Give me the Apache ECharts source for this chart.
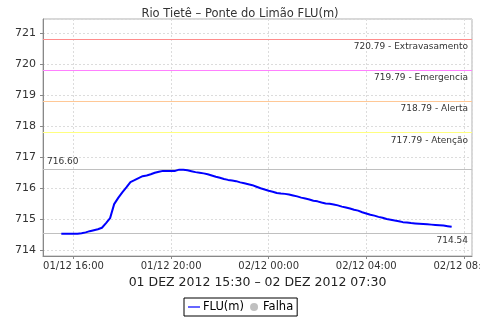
<!DOCTYPE html>
<html>
<head>
<meta charset="utf-8">
<script src="https://cdn.jsdelivr.net/npm/echarts@6/dist/echarts.min.js"></script>
<style>
html,body{margin:0;padding:0;background:#fff;}
#c{width:480px;height:320px;}
</style>
</head>
<body>
<div id="c"></div>
<script>
// ---- data ----
var titleText = 'Rio Tietê – Ponte do Limão FLU(m)';
var axisTitle = '01 DEZ 2012 15:30 – 02 DEZ 2012 07:30';
var seriesName = 'FLU(m)';
var failName = 'Falha';
var startTime = Date.UTC(2012, 11, 1, 15, 30);
var stepMinutes = 10;
var fluValues = [
  714.54, 714.54, 714.54, 714.54, 714.54, 714.55, 714.58, 714.62, 714.65, 714.68,
  714.73, 714.88, 715.04, 715.49, 715.69, 715.87, 716.03, 716.20, 716.26, 716.33,
  716.39, 716.41, 716.45, 716.50, 716.53, 716.56, 716.56, 716.56, 716.56, 716.60,
  716.60, 716.58, 716.55, 716.52, 716.50, 716.48, 716.45, 716.41, 716.37, 716.34,
  716.30, 716.27, 716.25, 716.23, 716.19, 716.16, 716.13, 716.10, 716.05, 716.00,
  715.96, 715.92, 715.89, 715.85, 715.83, 715.82, 715.80, 715.77, 715.74, 715.70,
  715.67, 715.64, 715.60, 715.58, 715.54, 715.51, 715.50, 715.48, 715.45, 715.41,
  715.38, 715.35, 715.31, 715.28, 715.23, 715.19, 715.15, 715.12, 715.08, 715.05,
  715.01, 714.99, 714.96, 714.94, 714.91, 714.90, 714.88, 714.87, 714.86, 714.85,
  714.84, 714.83, 714.82, 714.81, 714.80, 714.78, 714.76
];
var thresholdValues = [720.79, 719.79, 718.79, 717.79];
var thresholdNames = ['Extravasamento', 'Emergencia', 'Alerta', 'Atenção'];
var thresholdColors = ['#ff8c8c', '#ff80ff', '#ffc896', '#ffff80'];
var maxValue = 716.60;
var minValue = 714.54;
var xMin = Date.UTC(2012, 11, 1, 14, 45);
var xMax = Date.UTC(2012, 11, 2, 8, 20);
var yMin = 713.82;
var yMax = 721.45;

// ---- build ----
var fluData = fluValues.map(function (v, i) {
  return [startTime + i * stepMinutes * 60000, v];
});
function pad(n) { return (n < 10 ? '0' : '') + n; }
var FONT = 'DejaVu Sans';

var markData = thresholdValues.map(function (v, i) {
  return {
    yAxis: v,
    lineStyle: { color: thresholdColors[i], width: 1.2, type: 'solid' },
    label: {
      show: true, position: 'insideEndBottom',
      formatter: v.toFixed(2) + ' - ' + thresholdNames[i],
      color: '#333', fontSize: 9, fontFamily: FONT, distance: [4, 3]
    }
  };
});
markData.push({
  yAxis: maxValue,
  lineStyle: { color: '#c0c0c0', width: 1, type: 'solid' },
  label: { show: true, position: 'insideStartTop', formatter: maxValue.toFixed(2),
           color: '#333', fontSize: 9, fontFamily: FONT, distance: [4, 3] }
});
markData.push({
  yAxis: minValue,
  lineStyle: { color: '#c0c0c0', width: 1, type: 'solid' },
  label: { show: true, position: 'insideEndBottom', formatter: minValue.toFixed(2),
           color: '#333', fontSize: 9, fontFamily: FONT, distance: [4, 3] }
});

var chart = echarts.init(document.getElementById('c'), null, { renderer: 'canvas' });
chart.setOption({
  useUTC: true,
  animation: false,
  backgroundColor: '#fff',
  title: {
    text: titleText, left: 'center', top: 3,
    textStyle: { fontSize: 11.5, fontWeight: 'normal', color: '#333', fontFamily: FONT }
  },
  legend: {
    left: 184, top: 298, padding: [3, 4, 3, 4], itemGap: 6,
    itemWidth: 12, itemHeight: 8,
    borderColor: '#000', borderWidth: 1,
    textStyle: { fontSize: 11.5, color: '#000', fontFamily: FONT, padding: [0, 0, 0, -2] },
    data: [
      { name: seriesName, icon: 'path://M0,0H20V2H0Z', itemStyle: { color: '#0000ff' } },
      { name: failName, icon: 'circle', itemStyle: { color: '#c0c0c0' } }
    ]
  },
  grid: {
    left: 43, right: 8, top: 19, bottom: 64,
    outerBoundsMode: 'none', containLabel: false,
    show: true, borderColor: '#b0b0b0', borderWidth: 1
  },
  xAxis: {
    type: 'time', min: xMin, max: xMax,
    minInterval: 4 * 3600000, maxInterval: 4 * 3600000,
    name: axisTitle, nameLocation: 'middle', nameGap: 18,
    nameTextStyle: { fontSize: 12.5, color: '#222', fontFamily: FONT },
    axisLine: { lineStyle: { color: '#888' } },
    axisTick: { show: true, length: 3, lineStyle: { color: '#888' } },
    axisLabel: {
      fontSize: 10, color: '#333', fontFamily: FONT, margin: 5,
      hideOverlap: false,
      formatter: function (val) {
        var d = new Date(val);
        return pad(d.getUTCDate()) + '/' + pad(d.getUTCMonth() + 1) + ' ' +
               pad(d.getUTCHours()) + ':' + pad(d.getUTCMinutes());
      }
    },
    splitLine: { show: true, lineStyle: { color: '#dcdcdc', type: [2, 2] } }
  },
  yAxis: {
    type: 'value', min: yMin, max: yMax, splitNumber: 8,
    axisLine: { show: true, lineStyle: { color: '#888' } },
    axisTick: { show: true, length: 3, lineStyle: { color: '#888' } },
    axisLabel: { fontSize: 11, color: '#333', fontFamily: FONT, margin: 7,
                 showMinLabel: false, showMaxLabel: false },
    splitLine: { show: true, lineStyle: { color: '#dcdcdc', type: [2, 2] } }
  },
  series: [
    {
      name: failName, type: 'line', data: [], z: 1,
      itemStyle: { color: '#c0c0c0' },
      markLine: { silent: true, symbol: 'none', animation: false, z: 1, data: markData }
    },
    {
      name: seriesName, type: 'line', data: fluData, z: 5,
      showSymbol: false, symbol: 'none',
      lineStyle: { color: '#0000ff', width: 2 },
      itemStyle: { color: '#0000ff' }
    }
  ]
});
</script>
</body>
</html>
